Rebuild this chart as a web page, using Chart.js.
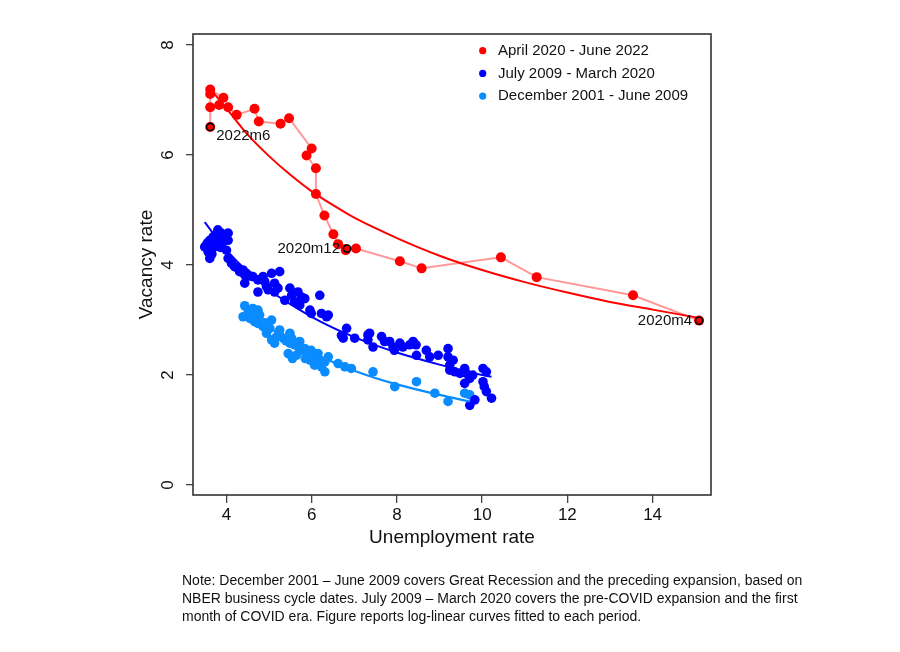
<!DOCTYPE html>
<html>
<head>
<meta charset="utf-8">
<script src="https://cdn.jsdelivr.net/npm/chart.js@4.4.1/dist/chart.umd.min.js"></script>
<style>
  body { margin: 0; background: #fff; }
  #wrap { position: relative; width: 900px; height: 652px; }
  #note {
    position: absolute; left: 182px; top: 571px;
    font: 14px "Liberation Sans", Arial, sans-serif; line-height: 18px;
    color: #111; white-space: nowrap;
  }
</style>
</head>
<body>
<div id="wrap">
  <canvas id="chart" width="900" height="652"></canvas>
  <div id="note">Note: December 2001 – June 2009 covers Great Recession and the preceding expansion, based on<br>NBER business cycle dates. July 2009 – March 2020 covers the pre-COVID expansion and the first<br>month of COVID era. Figure reports log-linear curves fitted to each period.</div>
</div>
<script>
// April 2020 - June 2022, in time order (unemployment, vacancy)
const redU = [15.09, 13.54, 11.28, 10.44, 8.58, 8.07, 7.04, 6.80, 6.80, 6.62, 6.51, 6.30, 6.10, 6.10, 5.88, 6.00, 5.47, 5.27, 4.76, 4.66, 4.24, 4.04, 3.83, 3.93, 3.62, 3.62, 3.62, 3.62];
const redV = [2.99, 3.45, 3.78, 4.14, 3.94, 4.07, 4.30, 4.27, 4.29, 4.38, 4.56, 4.90, 5.29, 5.76, 5.99, 6.12, 6.67, 6.57, 6.61, 6.84, 6.73, 6.87, 6.91, 7.04, 7.19, 7.11, 6.87, 6.51];

// July 2009 - March 2020
const navyU = [3.49, 3.57, 3.61, 3.69, 3.80, 3.88, 4.04, 4.04, 3.92, 3.77, 3.57, 3.61, 3.65, 3.72, 4.00, 3.84, 3.74, 3.95, 3.55, 3.66, 3.86, 3.80,
  4.04, 4.12, 4.19, 4.27, 4.39, 4.43, 4.47, 4.43, 4.31, 4.55, 4.62, 4.74, 4.86, 4.90, 5.06, 5.25, 4.74, 4.94, 4.98, 5.13, 5.13, 5.21,
  5.37, 5.49, 5.53, 5.68, 5.60, 5.72, 5.76, 5.84, 5.96, 5.99, 6.19, 6.23, 6.35, 6.39,
  6.82, 6.74, 6.70, 7.01, 7.32, 7.36, 7.32, 7.44, 7.64, 7.71, 7.83, 7.91, 7.94, 8.07, 8.14, 8.30, 8.38, 8.45, 8.46, 8.69, 8.77, 8.97,
  9.20, 9.20, 9.32, 9.24, 9.24, 9.36, 9.48, 9.59, 9.63, 9.59, 9.71, 9.78, 10.02, 10.10, 10.02, 10.05, 10.10, 10.22, 9.83, 9.71];
const navyV = [4.33, 4.36, 4.45, 4.51, 4.64, 4.58, 4.58, 4.45, 4.42, 4.39, 4.24, 4.12, 4.30, 4.33, 4.27, 4.50, 4.55, 4.52, 4.40, 4.20, 4.32, 4.47,
  4.12, 4.03, 3.97, 3.94, 3.91, 3.82, 3.85, 3.67, 3.88, 3.80, 3.79, 3.73, 3.79, 3.70, 3.85, 3.88, 3.51, 3.61, 3.55, 3.67, 3.51, 3.58,
  3.36, 3.58, 3.45, 3.51, 3.33, 3.27, 3.42, 3.39, 3.18, 3.12, 3.45, 3.12, 3.06, 3.09,
  2.85, 2.67, 2.72, 2.67, 2.73, 2.76, 2.64, 2.51, 2.70, 2.61, 2.61, 2.51, 2.45, 2.58, 2.51, 2.55, 2.61, 2.55, 2.36, 2.45, 2.33, 2.36,
  2.48, 2.33, 2.27, 2.18, 2.09, 2.06, 2.03, 2.12, 2.03, 1.85, 1.94, 2.00, 2.12, 2.06, 1.88, 1.79, 1.70, 1.58, 1.55, 1.45];

// December 2001 - June 2009
const skyU = [4.43, 4.39, 4.51, 4.62, 4.74, 4.78, 4.55, 4.58, 4.66, 4.70, 4.74, 4.86, 4.90, 5.06, 5.02, 4.94, 5.06, 5.13, 5.18, 5.25, 5.25, 5.33,
  5.40, 5.49, 5.53, 5.49, 5.45, 5.55, 5.60, 5.64, 5.70, 5.72, 5.76, 5.84, 5.85, 5.92, 5.96, 6.00, 5.99, 6.10, 6.15, 6.19, 6.07, 6.23,
  6.31, 6.39, 6.31, 6.62, 6.78, 6.93, 7.44, 7.95, 8.46, 8.89, 9.20, 9.59, 9.71];
const skyV = [3.26, 3.06, 3.18, 3.21, 3.18, 3.09, 3.03, 3.12, 2.97, 3.05, 2.94, 2.88, 2.95, 3.00, 2.85, 2.76, 2.64, 2.58, 2.70, 2.82, 2.73, 2.67,
  2.62, 2.76, 2.67, 2.58, 2.39, 2.30, 2.55, 2.36, 2.50, 2.61, 2.45, 2.48, 2.30, 2.39, 2.27, 2.33, 2.45, 2.30, 2.39, 2.27, 2.18, 2.15,
  2.06, 2.33, 2.24, 2.21, 2.15, 2.12, 2.06, 1.79, 1.88, 1.67, 1.52, 1.67, 1.64];

// fitted curves
const redFitU = [3.62, 4.0, 4.5, 5.0, 5.5, 6.0, 6.5, 7.0, 8.0, 9.0, 10.0, 11.0, 12.0, 13.0, 14.0, 15.09];
const redFitV = [7.20, 6.85, 6.37, 5.98, 5.64, 5.34, 5.09, 4.86, 4.49, 4.17, 3.91, 3.69, 3.50, 3.33, 3.19, 3.04];
const navyFitU = [3.49, 4.0, 5.0, 6.0, 7.0, 8.0, 9.0, 10.0, 10.22];
const navyFitV = [4.78, 4.27, 3.55, 3.06, 2.69, 2.41, 2.19, 2.00, 1.97];
const skyFitU = [4.4, 5.0, 5.5, 6.0, 7.0, 8.0, 9.0, 9.71];
const skyFitV = [3.23, 2.87, 2.61, 2.41, 2.08, 1.83, 1.64, 1.52];

// labelled months
const markU = [3.62, 6.83, 15.09];
const markV = [6.51, 4.30, 2.99];
const markLabels = ['2022m6', '2020m12', '2020m4'];

const xTicks = [4, 6, 8, 10, 12, 14];
const yTicks = [0, 2, 4, 6, 8];
const seriesNames = ['April 2020 - June 2022', 'July 2009 - March 2020', 'December 2001 - June 2009'];
const seriesColors = ['#ff0000', '#0000ff', '#0a8cff'];

const pts = (xs, ys) => xs.map((x, i) => ({ x: x, y: ys[i] }));
const FONT = '"Liberation Sans", Arial, sans-serif';

const decor = {
  id: 'decor',
  afterDraw(chart) {
    const { ctx, chartArea: a, scales } = chart;
    ctx.save();
    // frame
    ctx.strokeStyle = '#333';
    ctx.lineWidth = 1.6;
    ctx.strokeRect(a.left, a.top, a.right - a.left, a.bottom - a.top);
    ctx.fillStyle = '#111';
    // y tick labels, rotated
    ctx.font = '17px ' + FONT;
    ctx.textAlign = 'center';
    ctx.textBaseline = 'middle';
    yTicks.forEach(v => {
      ctx.save();
      ctx.translate(168, scales.y.getPixelForValue(v));
      ctx.rotate(-Math.PI / 2);
      ctx.fillText(String(v), 0, 0);
      ctx.restore();
    });
    // axis titles
    ctx.font = '19px ' + FONT;
    ctx.save();
    ctx.translate(147, (a.top + a.bottom) / 2);
    ctx.rotate(-Math.PI / 2);
    ctx.fillText('Vacancy rate', 0, 0);
    ctx.restore();
    ctx.fillText('Unemployment rate', (a.left + a.right) / 2, 538);
    // point labels
    ctx.font = '15px ' + FONT;
    markLabels.forEach((t, i) => {
      const px = scales.x.getPixelForValue(markU[i]);
      const py = scales.y.getPixelForValue(markV[i]);
      if (i === 0) {
        ctx.textAlign = 'left';
        ctx.fillText(t, px + 6, py + 9);
      } else {
        ctx.textAlign = 'right';
        ctx.fillText(t, px - 7, py);
      }
    });
    // legend
    ctx.textAlign = 'left';
    seriesNames.forEach((t, i) => {
      const y = 50.7 + i * 22.7;
      ctx.fillStyle = seriesColors[i];
      ctx.beginPath();
      ctx.arc(482.7, y, 3.6, 0, Math.PI * 2);
      ctx.fill();
      ctx.fillStyle = '#111';
      ctx.fillText(t, 498, y);
    });
    ctx.restore();
  }
};

new Chart(document.getElementById('chart'), {
  type: 'scatter',
  data: {
    datasets: [
      { label: 'marks', data: pts(markU, markV), pointRadius: 3.6, pointBackgroundColor: '#ff0000',
        pointBorderColor: '#000', pointBorderWidth: 1.6, order: 0 },
      { label: 'red fit', data: pts(redFitU, redFitV), showLine: true, borderColor: '#ff0000', borderWidth: 2,
        pointRadius: 0, cubicInterpolationMode: 'monotone', order: 1 },
      { label: seriesNames[0], data: pts(redU, redV), showLine: true, borderColor: 'rgba(255,70,70,0.55)', borderWidth: 2,
        pointRadius: 5, pointBackgroundColor: '#ff0000', pointBorderWidth: 0, order: 2 },
      { label: 'navy fit', data: pts(navyFitU, navyFitV), showLine: true, borderColor: '#0000ff', borderWidth: 2,
        pointRadius: 0, cubicInterpolationMode: 'monotone', order: 3 },
      { label: 'sky fit', data: pts(skyFitU, skyFitV), showLine: true, borderColor: seriesColors[2], borderWidth: 2.2,
        pointRadius: 0, cubicInterpolationMode: 'monotone', order: 4 },
      { label: seriesNames[1], data: pts(navyU, navyV), pointRadius: 4.8, pointBackgroundColor: '#0000ff',
        pointBorderWidth: 0, order: 5 },
      { label: seriesNames[2], data: pts(skyU, skyV), pointRadius: 4.8, pointBackgroundColor: seriesColors[2],
        pointBorderWidth: 0, order: 6 }
    ]
  },
  options: {
    responsive: false,
    animation: false,
    layout: { padding: { left: 0, top: 34, right: 189, bottom: 97 } },
    plugins: { legend: { display: false }, tooltip: { enabled: false } },
    scales: {
      x: {
        type: 'linear', min: 3.216, max: 15.37,
        afterBuildTicks: s => { s.ticks = xTicks.map(v => ({ value: v })); },
        afterFit: s => { s.height = 60; },
        grid: { drawOnChartArea: false, drawTicks: true, tickLength: 8, color: '#444', lineWidth: 1.3 },
        border: { display: false },
        ticks: { font: { size: 17, family: FONT }, color: '#111', padding: 2, maxRotation: 0 }
      },
      y: {
        type: 'linear', min: -0.18, max: 8.2,
        afterBuildTicks: s => { s.ticks = yTicks.map(v => ({ value: v })); },
        afterFit: s => { s.width = 193; },
        grid: { drawOnChartArea: false, drawTicks: true, tickLength: 7, color: '#444', lineWidth: 1.3 },
        border: { display: false },
        ticks: { display: false }
      }
    }
  },
  plugins: [decor]
});
</script>
</body>
</html>
